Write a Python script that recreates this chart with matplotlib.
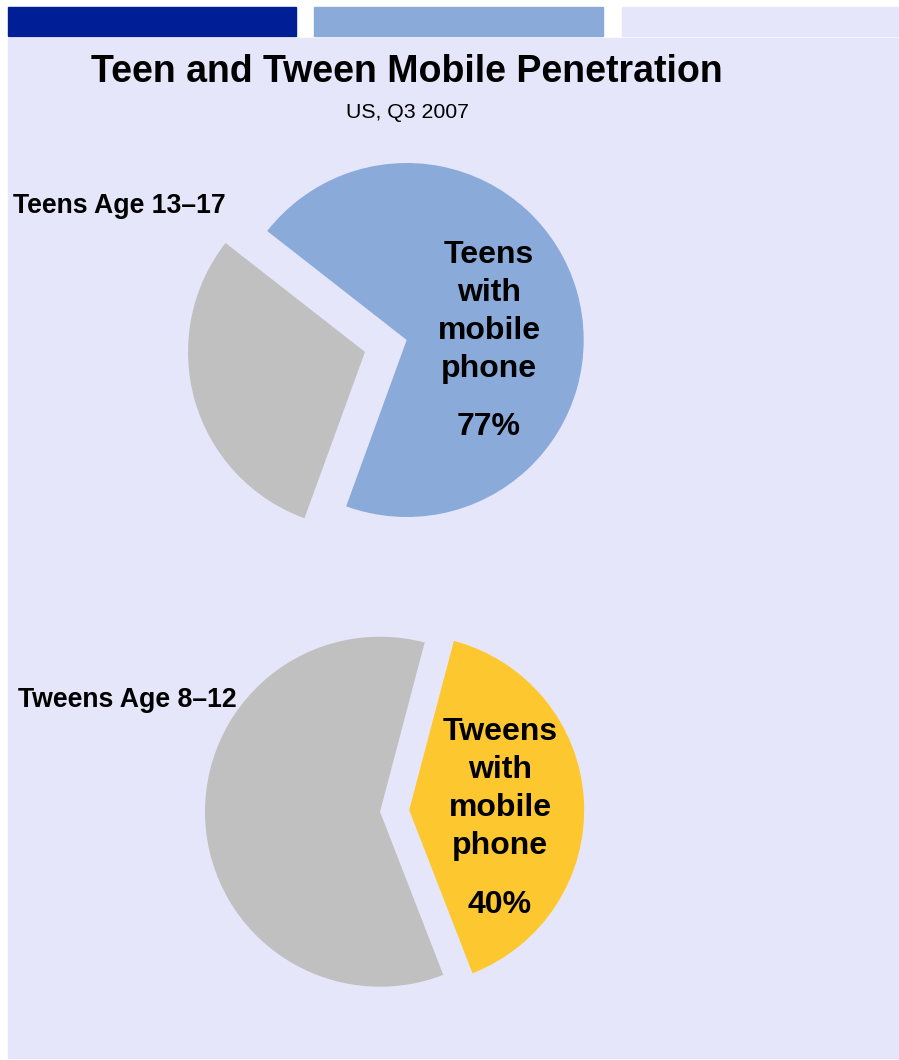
import matplotlib
matplotlib.use("Agg")
import matplotlib.pyplot as plt
from matplotlib.patches import Rectangle

# data
teen_groups = ["Teens with mobile phone", "Teens without"]
teen_share = [70, 30]          # wedge sizes as drawn in the reference
teen_label = "77%"             # label printed on the reference
tween_groups = ["Tweens with mobile phone", "Tweens without"]
tween_share = [40, 60]
tween_label = "40%"

title = "Teen and Tween Mobile Penetration"
subtitle = "US, Q3 2007"
row_titles = ["Teens Age 13\u201317", "Tweens Age 8\u201312"]

DARK = "#001E96"
BLUE = "#8AAADA"
LAV = "#E6E6FA"
GRAY = "#C0C0C0"
YELLOW = "#FDC82F"

W, H = 899, 1060
plt.rcParams['font.family'] = ['Liberation Sans', 'DejaVu Sans']
fig = plt.figure(figsize=(W / 100, H / 100), dpi=100, facecolor="white")


def px_rect(x0, y0, x1, y1, color):
    fig.patches.append(Rectangle((x0 / W, 1 - y1 / H), (x1 - x0) / W, (y1 - y0) / H,
                                 transform=fig.transFigure, color=color, zorder=-5))


def px_text(x, y, s, **kw):
    fig.text(x / W, 1 - y / H, s, **kw)


def pie_axes(cx, cy, r_px, half=260):
    ax = fig.add_axes([(cx - half) / W, 1 - (cy + half) / H, 2 * half / W, 2 * half / H])
    ax.patch.set_alpha(0)
    return ax, half / r_px


# header bars and panel
px_rect(8, 7, 296, 36, DARK)
px_rect(314, 7, 603, 36, BLUE)
px_rect(622, 7, 899, 36, LAV)
px_rect(8, 38, 899, 1058, LAV)

px_text(407, 72, title, ha="center", va="center", fontsize=27, fontweight="bold")
px_text(407, 113, subtitle, ha="center", va="center", fontsize=15.3)

# teens pie
ax1, lim1 = pie_axes(406.7, 340, 177)
ax1.pie(teen_share, colors=[BLUE, GRAY], startangle=250, counterclock=True,
        explode=[0, 0.245], wedgeprops=dict(linewidth=0))
ax1.set_xlim(-lim1, lim1)
ax1.set_ylim(-lim1, lim1)
ax1.set_aspect("equal")
ax1.axis("off")

# tweens pie
ax2, lim2 = pie_axes(380, 811.7, 175)
ax2.pie(tween_share, colors=[YELLOW, GRAY], startangle=-68.8, counterclock=True,
        explode=[0.167, 0], wedgeprops=dict(linewidth=0))
ax2.set_xlim(-lim2, lim2)
ax2.set_ylim(-lim2, lim2)
ax2.set_aspect("equal")
ax2.axis("off")

px_text(13, 206, row_titles[0], ha="left", va="center", fontsize=19.2, fontweight="bold")
px_text(18, 700, row_titles[1], ha="left", va="center", fontsize=19.2, fontweight="bold")

px_text(489, 312, "Teens\nwith\nmobile\nphone", ha="center", va="center",
        fontsize=23, fontweight="bold", linespacing=1.35)
px_text(489, 427, teen_label, ha="center", va="center", fontsize=23, fontweight="bold")
px_text(500, 789, "Tweens\nwith\nmobile\nphone", ha="center", va="center",
        fontsize=23, fontweight="bold", linespacing=1.35)
px_text(500, 905, tween_label, ha="center", va="center", fontsize=23, fontweight="bold")

fig.savefig("out.png", dpi=100, facecolor="white")
